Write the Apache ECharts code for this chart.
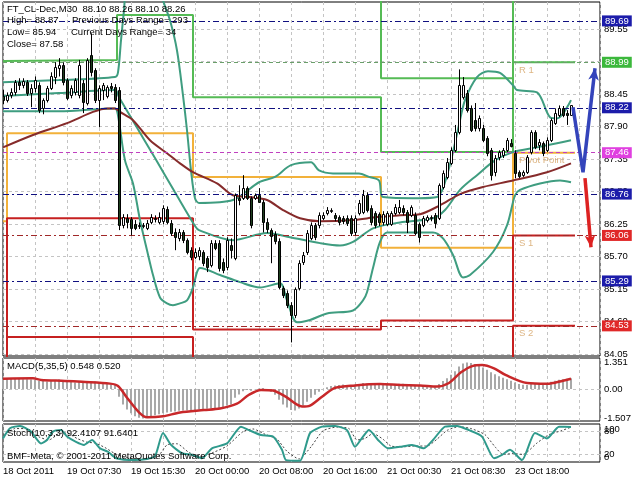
<!DOCTYPE html>
<html><head><meta charset="utf-8">
<script src="https://cdn.jsdelivr.net/npm/echarts@6/dist/echarts.min.js"></script>
<style>html,body{margin:0;padding:0;background:#fff}#c{width:640px;height:480px}</style>
</head><body><div id="c"></div>
<script>
// ---------- data ----------
const timeLabels = ['18 Oct 2011','19 Oct 07:30','19 Oct 15:30','20 Oct 00:00','20 Oct 08:00','20 Oct 16:00','21 Oct 00:30','21 Oct 08:30','23 Oct 18:00'];
const priceTicks = [84.05,84.60,85.15,85.70,86.25,86.80,87.35,87.90,88.45,89.00,89.55];

const opens = [88.42,88.35,88.43,88.48,88.65,88.60,88.65,88.47,88.55,88.60,
88.21,88.35,88.55,88.74,88.89,88.94,88.69,88.43,88.48,88.43,
88.64,88.30,89.11,88.86,88.35,88.52,88.42,88.59,88.57,88.52,
86.23,86.35,86.34,86.25,86.22,86.22,86.18,86.28,86.35,86.28,
86.30,86.50,86.27,86.11,86.01,86.11,85.98,85.81,85.69,85.71,
85.78,85.67,85.56,85.93,85.93,85.61,85.52,85.89,85.67,86.69,
86.69,86.86,86.69,86.69,86.74,86.62,86.28,86.15,86.08,85.96,
85.17,85.08,84.88,84.71,85.17,85.61,85.78,86.01,86.23,86.23,
86.35,86.44,86.47,86.40,86.37,86.35,86.35,86.35,86.11,86.44,
86.45,86.74,86.52,86.44,86.42,86.28,86.25,86.25,86.44,86.45,
86.52,86.45,86.40,86.40,86.25,86.23,86.32,86.35,86.40,86.35,
86.88,87.05,87.28,87.50,87.81,88.40,88.47,88.21,88.01,87.87,
87.87,87.71,87.50,87.13,87.38,87.42,87.50,87.62,87.45,87.13,
87.08,87.13,87.47,87.81,87.59,87.62,87.50,87.67,87.96,88.09,
88.21,88.14,88.10];
const highs = [88.52,88.48,88.55,88.69,88.72,88.72,88.69,88.62,88.75,88.65,
88.38,88.59,88.82,88.99,89.06,88.99,88.72,88.60,88.72,89.03,
88.69,89.06,89.48,88.89,88.60,88.64,88.60,88.64,88.62,88.57,
86.42,86.42,86.37,86.32,86.28,86.27,86.32,86.42,86.40,86.45,
86.57,86.55,86.32,86.18,86.17,86.15,86.01,85.86,85.84,85.86,
85.81,85.71,85.98,85.98,85.98,85.67,86.03,86.01,86.77,86.91,
87.08,86.89,86.72,86.77,86.86,86.66,86.35,86.18,86.13,86.01,
85.20,85.13,84.93,85.18,85.64,85.78,86.15,86.28,86.27,86.45,
86.45,86.54,86.52,86.44,86.40,86.39,86.40,86.40,86.40,86.66,
86.83,86.79,86.57,86.47,86.45,86.47,86.47,86.47,86.59,86.66,
86.57,86.49,86.57,86.45,86.28,86.39,86.40,86.40,86.44,86.94,
87.16,87.37,87.55,87.93,88.87,88.74,88.52,88.26,88.30,88.09,
87.93,87.74,87.54,87.42,87.50,87.54,87.71,87.69,87.50,87.16,
87.16,87.42,87.84,87.84,87.69,87.65,87.72,88.04,88.21,88.26,
88.25,88.18,88.26];
const lows = [88.28,88.31,88.38,88.43,88.52,88.55,88.42,88.23,88.48,88.13,
88.11,88.31,88.52,88.62,88.75,88.60,88.35,88.38,88.43,88.38,
88.13,88.26,88.75,88.30,87.89,88.35,88.38,88.48,88.30,86.15,
86.18,86.18,86.06,86.15,86.17,86.18,86.15,86.25,86.28,86.25,
86.25,86.25,86.05,85.81,85.96,85.93,85.74,85.64,85.66,85.64,
85.54,85.44,85.52,85.81,85.45,85.42,85.47,85.67,85.64,86.57,
86.66,86.66,86.18,86.66,86.61,86.11,86.10,85.59,85.91,85.15,
85.00,84.83,84.25,84.66,85.13,85.56,85.73,85.98,85.98,86.18,
86.32,86.40,86.44,86.30,86.23,86.25,86.22,86.05,86.06,86.40,
86.42,86.45,86.23,86.18,86.22,86.23,86.22,86.22,86.40,86.42,
86.40,86.10,86.37,86.06,85.94,86.20,86.28,86.30,86.18,86.32,
86.84,87.01,87.25,87.47,87.77,88.36,88.14,87.81,87.82,87.82,
87.64,87.40,86.99,87.06,87.33,87.37,87.47,87.55,87.03,87.03,
87.05,87.10,87.43,87.52,87.50,87.40,87.47,87.64,87.93,88.06,
88.06,87.93,88.10];
const closes = [88.35,88.43,88.48,88.65,88.60,88.67,88.47,88.55,88.69,88.18,
88.35,88.55,88.75,88.91,88.94,88.65,88.38,88.55,88.69,88.94,
88.31,89.03,88.82,88.35,88.55,88.60,88.57,88.55,88.35,86.23,
86.37,86.28,86.18,86.18,86.23,86.23,86.27,86.37,86.34,86.37,
86.52,86.28,86.10,86.03,86.11,85.98,85.78,85.69,85.78,85.81,
85.59,85.52,85.93,85.84,85.51,85.47,85.98,85.81,86.74,86.66,
86.86,86.69,86.23,86.74,86.62,86.28,86.17,86.05,85.96,85.18,
85.05,84.88,84.71,85.15,85.59,85.73,86.10,86.23,86.03,86.40,
86.40,86.49,86.49,86.35,86.28,86.30,86.27,86.10,86.35,86.61,
86.74,86.49,86.28,86.23,86.28,86.42,86.44,86.44,86.54,86.54,
86.45,86.28,86.54,86.10,86.03,86.35,86.37,86.37,86.27,86.91,
87.11,87.30,87.50,87.81,88.60,88.60,88.18,87.84,87.87,88.04,
87.67,87.45,87.08,87.37,87.47,87.50,87.67,87.58,87.11,87.06,
87.13,87.38,87.81,87.55,87.64,87.45,87.67,88.01,88.14,88.21,
88.09,88.09,88.26];

const bbUpper = [[0,88.65],[14,88.69],[28,88.74],[28.75,88.82],[29.5,89.36],[30.25,89.87],[31,90.3],[35,90.7],[39,90.35],[40,90.04],[41.75,89.70],[43.5,89.19],[45,88.43],[46,87.84],[47,87.16],[48,86.69],[49,86.61],[57.5,86.66],[64,86.96],[68,87.05],[72,87.25],[77,87.30],[79,87.16],[82.5,87.11],[89,87.11],[91.5,87.05],[94,86.99],[95,86.71],[104,86.69],[108.5,86.71],[110,86.86],[112,87.33],[114,87.93],[115.5,88.35],[118.5,88.74],[121.25,88.84],[124.25,88.81],[127.5,88.60],[128.5,88.52],[133.5,88.48],[136.75,88.06],[138.5,88.04],[142,88.35]];
const bbMiddle = [[0,88.42],[14,88.47],[28,88.52],[29,88.40],[33,87.94],[38,87.37],[43,86.79],[48,86.22],[49,86.15],[57.5,85.98],[66,86.10],[71.75,86.03],[79.25,85.93],[84.25,85.89],[87.5,85.95],[92.5,86.18],[99.25,86.28],[107.5,86.35],[110.5,86.49],[114.25,86.83],[118.5,87.08],[123,87.33],[127.5,87.47],[133.5,87.55],[138.5,87.62],[142,87.67]];
const bbLower = [[0,88.16],[14,88.16],[28,88.21],[28.75,88.09],[30.5,87.33],[32.5,86.94],[34.25,86.32],[36,85.81],[37.5,85.39],[39.25,85.01],[41,84.91],[42.5,84.88],[44.25,84.91],[46,84.96],[47.5,85.18],[48.5,85.44],[49.25,85.51],[54.25,85.39],[59.25,85.27],[64.25,85.18],[69.25,85.25],[71,84.96],[73.5,84.59],[76.75,84.63],[81,84.74],[87.5,84.79],[90,84.96],[91,85.10],[92.5,85.51],[94.25,85.95],[96,86.11],[107.5,86.11],[110,86.01],[112.5,85.73],[115,85.35],[116.75,85.39],[122.5,85.78],[126,86.23],[128,86.74],[129.25,86.83],[134.25,86.94],[139.25,86.99],[142,86.96]];
const maLine = [[0,87.55],[7.5,87.76],[16,87.96],[22.5,88.15],[26,88.21],[28,88.21],[29.25,88.15],[32.5,88.01],[36.75,87.67],[41,87.45],[44.25,87.28],[47.5,87.13],[53.5,86.94],[57.5,86.74],[61.75,86.71],[66,86.66],[70,86.49],[74.25,86.35],[79.25,86.30],[87.5,86.32],[93.5,86.37],[99.25,86.40],[104.25,86.42],[109.25,86.57],[114.25,86.76],[120,86.88],[127.5,86.99],[136,87.13],[142,87.28]];

const r2Line = [[0,91.5],[47.5,91.5],[47.5,90.98],[94.5,90.98],[94.5,88.72],[127.5,88.72],[127.5,90.39],[143,90.39]];
const r1Line = [[0,89.01],[28.5,89.03],[28.5,89.79],[47.5,89.79],[47.5,88.40],[94.5,88.40],[94.5,87.47],[127.5,87.47],[127.5,88.99],[143,88.99]];
const ppLine = [[0,86.30],[1,86.30],[1,87.79],[47.5,87.79],[47.5,87.05],[94.5,87.05],[94.5,85.85],[127.5,85.85],[127.5,87.46],[143,87.46]];
const s1Line = [[0,83.5],[1,83.5],[1,86.35],[47.5,86.35],[47.5,84.47],[94.5,84.47],[94.5,84.62],[127.5,84.62],[127.5,86.06],[143,86.06]];
const s2Line = [[0,83.0],[1,83.0],[1,84.34],[47.5,84.34],[47.5,82.5],[127.5,82.5],[127.5,84.53],[143,84.53]];
const pivotNames = ['R 1','Pivot Point','S 1','S 2'];
const pivotValues = [88.99,87.46,86.06,84.53];
const pivotStart = 128;

const levelValues = [89.69,88.99,88.22,87.46,86.76,86.06,85.29,84.53];
const levelKinds = ['mid','r','mid','pp','mid','s','mid','s'];

const forecastUp = [[142.5,88.23],[145,87.13],[148,88.89]];
const forecastDown = [[145.5,87.03],[147,85.86]];

const macdHist = [0.50,0.51,0.52,0.53,0.52,0.50,0.49,0.48,0.45,
0.42,0.40,0.38,0.40,0.45,0.48,0.45,0.40,0.35,0.33,0.35,0.33,
0.32,0.35,0.38,0.30,0.28,0.25,0.22,0.20,
-0.40,-0.80,-1.05,-1.25,-1.40,-1.48,-1.507,-1.45,-1.40,-1.35,-1.30,-1.25,-1.20,-1.17,-1.15,-1.12,-1.10,-1.10,-1.12,
-1.10,-1.05,-1.03,-1.02,-1.00,-0.98,-1.00,-0.97,-0.85,-0.80,-0.45,-0.28,-0.12,-0.05,-0.10,-0.02,0.02,0.05,
-0.05,-0.15,-0.30,-0.55,-0.80,-0.95,-1.08,-1.10,-1.00,-0.85,-0.65,-0.45,-0.30,-0.15,-0.02,
0.08,0.15,0.18,0.20,0.22,0.20,0.18,0.20,0.25,0.30,0.28,0.25,0.22,0.20,0.20,0.22,0.22,0.25,0.27,0.27,0.25,0.22,0.20,0.15,0.12,0.12,0.12,0.12,
0.25,0.40,0.55,0.72,0.90,1.15,1.30,1.351,1.32,1.27,1.20,1.10,0.98,0.85,0.75,0.65,0.57,0.50,0.42,0.33,0.25,0.21,0.20,0.25,0.28,0.28,0.27,0.30,0.36,0.42,0.47,0.50,0.52,0.548];
const macdSignal = [[0,0.52],[7.5,0.54],[9.5,0.46],[15.5,0.41],[19.75,0.36],[26.75,0.27],[28.75,0.15],[31,-0.45],[34,-1.2],[36,-1.45],[40,-1.40],[44.25,-1.20],[50.25,-1.08],[54.25,-1.00],[58.5,-0.75],[61.5,-0.3],[64.5,-0.05],[67.5,-0.08],[70.75,-0.41],[74.75,-0.90],[76.75,-0.85],[79.75,-0.4],[83,0.05],[88,0.18],[94.25,0.25],[99.25,0.2],[104.25,0.18],[108.5,0.12],[111.5,0.3],[114.5,0.85],[117.5,1.18],[119.75,1.22],[122.75,1.05],[125.75,0.7],[131,0.3],[136,0.26],[140,0.42],[142,0.52]];
const macdTicks = [-1.507,0,1.351];

const stochMain = [[0,62],[1.75,89],[4.25,95],[7,80],[9.5,49],[11,58],[12.5,80],[14.5,84],[16,67],[18.25,53],[20.25,45],[22.25,58],[24.25,36],[26.25,27],[28.25,10],[33,5],[36,8],[38,15],[40,76],[42,45],[44.75,23],[47.25,19],[49.75,10],[52.25,36],[56,49],[59.5,93],[61.5,84],[64.5,71],[67.5,67],[69.75,32],[70.75,5],[74.25,3],[76.75,76],[79.75,93],[83,95],[86,84],[88,40],[90,67],[91.5,84],[93.75,58],[96.25,36],[99.25,40],[102.25,45],[105.25,36],[107.5,58],[110.5,93],[113.5,95],[116.5,84],[119.75,67],[122.75,10],[124.75,19],[126.75,32],[129.75,5],[133,76],[136,62],[139,93],[142,92.41]];
const stochSignal = [[0,70],[3,88],[6,88],[9,66],[11.5,58],[14,75],[16,76],[18.5,62],[21,52],[23,50],[25.5,38],[28,22],[30.5,12],[35,8],[38.5,12],[41,45],[43.5,48],[46.5,25],[49.5,15],[52.5,25],[56,42],[60,80],[62.5,87],[65.5,73],[68.5,60],[71,28],[74,8],[77,40],[80,82],[83.5,92],[86.5,88],[88.5,58],[90.5,62],[92.5,75],[95,60],[97,42],[100,40],[103,42],[106,42],[108.5,60],[111,83],[114,93],[117,88],[120.5,72],[123,40],[125,20],[127.5,22],[130,20],[133.5,50],[136.5,72],[139.5,82],[142,91.64]];
const stochLevels = [20,80];
const stochBounds = [0,100];

// ---------- styles ----------
const FONT = 'Liberation Sans';
const C_BB = '#3f9d80', C_MA = '#862b2b', C_R = '#55bb55', C_PP = '#f2b13a', C_S = '#c62020';
const levelStyle = {
  mid: {line:'#101080', type:[6,3,2,3], box:'#1c1caa'},
  r:   {line:'#6a9f6a', type:[4,3],     box:'#3cb83c'},
  pp:  {line:'#c040c0', type:[4,3],     box:'#e040e0'},
  s:   {line:'#a02828', type:[6,3,2,3], box:'#e02828'}
};
const gridLine = {show:true, lineStyle:{color:'#c4c4c4', type:[3,3], width:1}};
const labelBase = {color:'#000', fontSize:9.5, fontFamily:FONT, margin:4};

const xBase = {type:'value', min:0, max:149.25, interval:8,
  axisLine:{show:false}, axisTick:{show:false}, splitLine:gridLine, axisLabel:{show:false}};

function lineSeries(data, color, width, extra){
  return Object.assign({type:'line', data, showSymbol:false, symbol:'none', silent:true,
    lineStyle:{color, width}, itemStyle:{color}, xAxisIndex:0, yAxisIndex:0, z:3}, extra||{});
}

const candleData = opens.map((o,i)=>[i,o,highs[i],lows[i],closes[i]]);

const option = {
  animation:false,
  backgroundColor:'#ffffff',
  textStyle:{fontFamily:FONT},
  grid:[
    {left:3, top:2, width:597, height:354, show:true, borderColor:'#000', borderWidth:1, backgroundColor:'#fff'},
    {left:3, top:358, width:597, height:63, show:true, borderColor:'#000', borderWidth:1, backgroundColor:'#fff'},
    {left:3, top:424, width:597, height:38, show:true, borderColor:'#000', borderWidth:1, backgroundColor:'#fff'}
  ],
  xAxis:[
    Object.assign({}, xBase, {gridIndex:0}),
    Object.assign({}, xBase, {gridIndex:1}),
    Object.assign({}, xBase, {gridIndex:2, axisLabel:Object.assign({}, labelBase, {show:true, align:'left',
      formatter:(v)=>{ const k=v/16; return (Number.isInteger(k) && k<timeLabels.length) ? timeLabels[k] : ''; }})})
  ],
  yAxis:[
    {type:'value', gridIndex:0, position:'right', min:84.02, max:90.01,
     axisLine:{show:false}, axisTick:{show:false, customValues:priceTicks},
     axisLabel:Object.assign({}, labelBase, {customValues:priceTicks, formatter:(v)=>v.toFixed(2)}),
     splitLine:gridLine},
    {type:'value', gridIndex:1, position:'right', min:-1.64, max:1.58,
     axisLine:{show:false}, axisTick:{show:false, customValues:[0]},
     axisLabel:Object.assign({}, labelBase, {customValues:macdTicks, formatter:(v)=> v===0 ? '0.00' : v.toFixed(3)}),
     splitLine:gridLine},
    {type:'value', gridIndex:2, position:'right', min:0, max:100,
     axisLine:{show:false}, axisTick:{show:false, customValues:stochLevels},
     axisLabel:Object.assign({}, labelBase, {customValues:stochLevels, showMinLabel:true, showMaxLabel:true}),
     splitLine:gridLine},
    {type:'value', gridIndex:2, position:'right', min:0, max:100,
     axisLine:{show:false}, axisTick:{show:false},
     axisLabel:Object.assign({}, labelBase, {customValues:stochBounds, showMinLabel:true, showMaxLabel:true,
       verticalAlignMaxLabel:'top', verticalAlignMinLabel:'bottom'}),
     splitLine:{show:false}}
  ],
  series:[
    {type:'line', data:[], xAxisIndex:0, yAxisIndex:0, z:2, silent:true,
     markLine:{symbol:'none', silent:true, animation:false,
       data: levelValues.map((v,k)=>{ const st=levelStyle[levelKinds[k]]; return {
         yAxis:v,
         lineStyle:{color:st.line, type:st.type, width:1},
         label:{show:true, position:'end', distance:2, formatter:v.toFixed(2), color:'#fff',
           backgroundColor:st.box, padding:[1,3,0,3], fontSize:9.5, fontFamily:FONT}
       };})}},
    lineSeries(r2Line, C_R, 2),
    lineSeries(r1Line, C_R, 2),
    lineSeries(ppLine, C_PP, 2),
    lineSeries(s1Line, C_S, 2),
    lineSeries(s2Line, C_S, 2),
    lineSeries(bbUpper, C_BB, 2, {smooth:0.3}),
    lineSeries(bbMiddle, C_BB, 2, {smooth:0.3}),
    lineSeries(bbLower, C_BB, 2, {smooth:0.3}),
    lineSeries(maLine, C_MA, 2, {smooth:0.3}),
    {type:'scatter', xAxisIndex:0, yAxisIndex:0, symbolSize:0, silent:true, z:4,
     data: pivotValues.map((v,k)=>({value:[pivotStart,v], name:pivotNames[k]})),
     label:{show:true, position:'right', distance:4, offset:[0,8], formatter:(p)=>p.name, color:'#d4a264', fontSize:9.5, fontFamily:FONT}},
    {type:'custom', xAxisIndex:0, yAxisIndex:0, z:5, silent:true, clip:true,
     data:candleData, encode:{x:0, y:[1,2,3,4]},
     renderItem:(params, api)=>{
       const i=api.value(0), o=api.value(1), h=api.value(2), l=api.value(3), c=api.value(4);
       const po=api.coord([i,o]), pc=api.coord([i,c]), ph=api.coord([i,h]), pl=api.coord([i,l]);
       const cx=Math.round(po[0]);
       const top=Math.round(Math.min(po[1],pc[1])), bot=Math.round(Math.max(po[1],pc[1]));
       const bull=c>=o;
       return {type:'group', children:[
         {type:'line', shape:{x1:cx+0.5, y1:ph[1], x2:cx+0.5, y2:pl[1]}, style:{stroke:'#000', lineWidth:1}},
         {type:'rect', shape:{x:cx-0.5, y:top+0.5, width:2, height:Math.max(1,bot-top)},
          style:{fill: bull ? '#ffffff' : '#1e3f1e', stroke:'#000', lineWidth:1}}
       ]};
     }},
    lineSeries(forecastUp.map((p,k)=> k===forecastUp.length-1 ? {value:p, symbol:'arrow', symbolSize:[8,12], symbolRotate:-7} : {value:p, symbol:'none'}),
      '#3444bb', 3.5, {showSymbol:true, z:6, clip:false}),
    lineSeries(forecastDown.map((p,k)=> k===forecastDown.length-1 ? {value:p, symbol:'arrow', symbolSize:[8,12], symbolRotate:185} : {value:p, symbol:'none'}),
      '#dd2222', 3.5, {showSymbol:true, z:6, clip:false}),
    {type:'bar', xAxisIndex:1, yAxisIndex:1, data: macdHist.map((v,i)=>[i,v]), barWidth:2,
     itemStyle:{color:'#a8a8a8'}, silent:true, z:2},
    {type:'line', xAxisIndex:1, yAxisIndex:1, data:macdSignal, showSymbol:false, symbol:'none', smooth:0.3,
     lineStyle:{color:'#c8282a', width:2.5}, silent:true, z:3},
    {type:'line', xAxisIndex:2, yAxisIndex:2, data:stochSignal, showSymbol:false, symbol:'none', smooth:0.2,
     lineStyle:{color:'#444', width:1, type:[2,2]}, silent:true, z:3},
    {type:'line', xAxisIndex:2, yAxisIndex:2, data:stochMain, showSymbol:false, symbol:'none', smooth:0.2,
     lineStyle:{color:'#2f9a8c', width:2}, silent:true, z:4}
  ],
  graphic:[
    {type:'text', left:7, top:4, z:100, style:{text:'FT_CL-Dec,M30  88.10 88.26 88.10 88.26', font:'9.5px "Liberation Sans"', fill:'#000'}},
    {type:'text', left:7, top:15, z:100, style:{text:'High= 88.87', font:'9.5px "Liberation Sans"', fill:'#000'}},
    {type:'text', left:72, top:15, z:100, style:{text:'Previous Days Range= 293', font:'9.5px "Liberation Sans"', fill:'#000'}},
    {type:'text', left:7, top:27, z:100, style:{text:'Low= 85.94', font:'9.5px "Liberation Sans"', fill:'#000'}},
    {type:'text', left:71, top:27, z:100, style:{text:'Current Days Range= 34', font:'9.5px "Liberation Sans"', fill:'#000'}},
    {type:'text', left:7, top:39, z:100, style:{text:'Close= 87.58', font:'9.5px "Liberation Sans"', fill:'#000'}},
    {type:'text', left:7, top:361, z:100, style:{text:'MACD(5,35,5) 0.548 0.520', font:'9.5px "Liberation Sans"', fill:'#000'}},
    {type:'text', left:7, top:428, z:100, style:{text:'Stoch(10,3,3) 92.4107 91.6401', font:'9.5px "Liberation Sans"', fill:'#000'}},
    {type:'text', left:7, top:451, z:100, style:{text:'BMF-Meta, \u00a9 2001-2011 MetaQuotes Software Corp.', font:'9.5px "Liberation Sans"', fill:'#000'}}
  ]
};
const chart = echarts.init(document.getElementById('c'), null, {renderer:'canvas'});
chart.setOption(option);
</script>
</body></html>
